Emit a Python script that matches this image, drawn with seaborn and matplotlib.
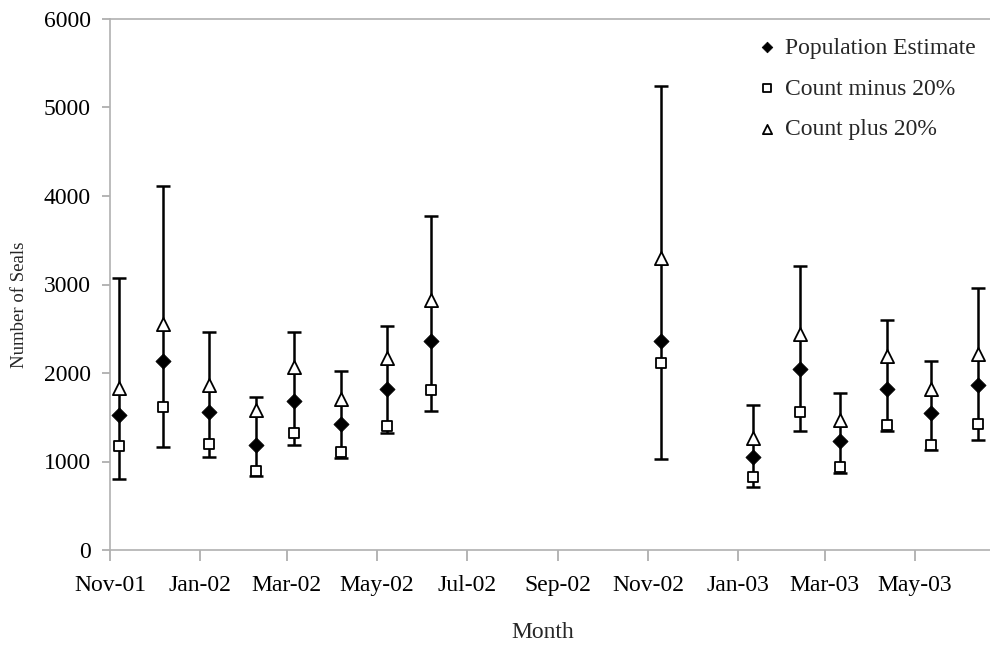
import matplotlib
matplotlib.use("Agg")
import matplotlib.pyplot as plt
import matplotlib.dates as mdates
import seaborn as sns
import pandas as pd
import numpy as np

# ---- data ----
survey_dates = ["2001-11-07", "2001-12-07", "2002-01-07", "2002-02-08", "2002-03-06",
                "2002-04-07", "2002-05-08", "2002-06-07", "2002-11-10", "2003-01-11",
                "2003-02-12", "2003-03-11", "2003-04-12", "2003-05-12", "2003-06-13"]
population_estimate = [1523, 2136, 1561, 1182, 1682, 1428, 1822, 2364, 2367, 1049,
                       2045, 1231, 1818, 1549, 1864]
count_minus_20 = [1170, 1617, 1193, 898, 1318, 1106, 1398, 1807, 2110, 822,
                  1561, 943, 1409, 1182, 1428]
count_plus_20 = [1830, 2557, 1864, 1580, 2068, 1705, 2167, 2822, 3303, 1269,
                 2440, 1466, 2193, 1822, 2212]
ci_lower = [807, 1163, 1049, 841, 1189, 1042, 1326, 1572, 1030, 716,
            1345, 871, 1345, 1125, 1239]
ci_upper = [3068, 4117, 2458, 1731, 2458, 2023, 2527, 3777, 5246, 1644,
            3208, 1777, 2600, 2140, 2955]

series_labels = ["Population Estimate", "Count minus 20%", "Count plus 20%"]
y_ticks = [0, 1000, 2000, 3000, 4000, 5000, 6000]

df = pd.DataFrame({
    "date": pd.to_datetime(survey_dates),
    "pop": population_estimate,
    "minus": count_minus_20,
    "plus": count_plus_20,
    "lo": ci_lower,
    "hi": ci_upper,
})

sns.set_style("white")
plt.rcParams["font.family"] = ["Liberation Serif", "DejaVu Serif"]

fig = plt.figure(figsize=(9.9, 6.46), dpi=100)
ax = fig.add_axes([110 / 990, 1 - 550 / 646, 1 - 110 / 990, (550 - 19) / 646])

# error bars (confidence interval around the population estimate)
yerr = np.vstack([df["pop"] - df["lo"], df["hi"] - df["pop"]])
ax.errorbar(df["date"], df["pop"], yerr=yerr, fmt="none", ecolor="black",
            elinewidth=1.8, capsize=5, capthick=1.8, zorder=2)

sns.scatterplot(data=df, x="date", y="pop", marker="D", s=60, color="black",
                edgecolor="black", linewidth=0.5, label=series_labels[0], ax=ax, zorder=4)
sns.scatterplot(data=df, x="date", y="minus", marker="s", s=62, facecolor="white",
                edgecolor="black", linewidth=1.3, label=series_labels[1], ax=ax, zorder=3)
sns.scatterplot(data=df, x="date", y="plus", marker="^", s=90, facecolor="white",
                edgecolor="black", linewidth=1.3, label=series_labels[2], ax=ax, zorder=3)

ax.set_ylim(0, 6000)
ax.set_yticks(y_ticks)
ax.set_xlim(pd.Timestamp("2001-11-01"), pd.Timestamp("2003-06-21"))
ax.xaxis.set_major_locator(mdates.MonthLocator(bymonth=[1, 3, 5, 7, 9, 11]))
ax.xaxis.set_major_formatter(mdates.DateFormatter("%b-%y"))

for side in ["left", "bottom", "top"]:
    ax.spines[side].set_visible(True)
    ax.spines[side].set_color("#b0b0b0")
    ax.spines[side].set_linewidth(1.2)
ax.spines["right"].set_visible(False)

ax.tick_params(axis="both", which="major", direction="out", width=1.1,
               color="#a0a0a0", labelsize=17, labelcolor="black",
               bottom=True, left=True)
ax.tick_params(axis="x", length=8, pad=10)
ax.tick_params(axis="y", length=6, pad=8)

ax.set_xlabel("Month", fontsize=17)
ax.set_ylabel("Number of Seals", fontsize=13.5)
ax.xaxis.set_label_coords((543 - 110) / 880, -(632 - 550) / 531)
ax.yaxis.set_label_coords(-(110 - 20) / 880, (550 - 305) / 531)
ax.xaxis.label.set_va("center")
ax.yaxis.label.set_va("center")

leg = ax.legend(loc="upper right", frameon=False, fontsize=17, labelspacing=0.82,
                handlelength=1.0, handletextpad=0.25, markerscale=0.7,
                borderaxespad=0.2, bbox_to_anchor=(1.0, 0.9925))

fig.savefig("out.png", dpi=100, facecolor="white")
